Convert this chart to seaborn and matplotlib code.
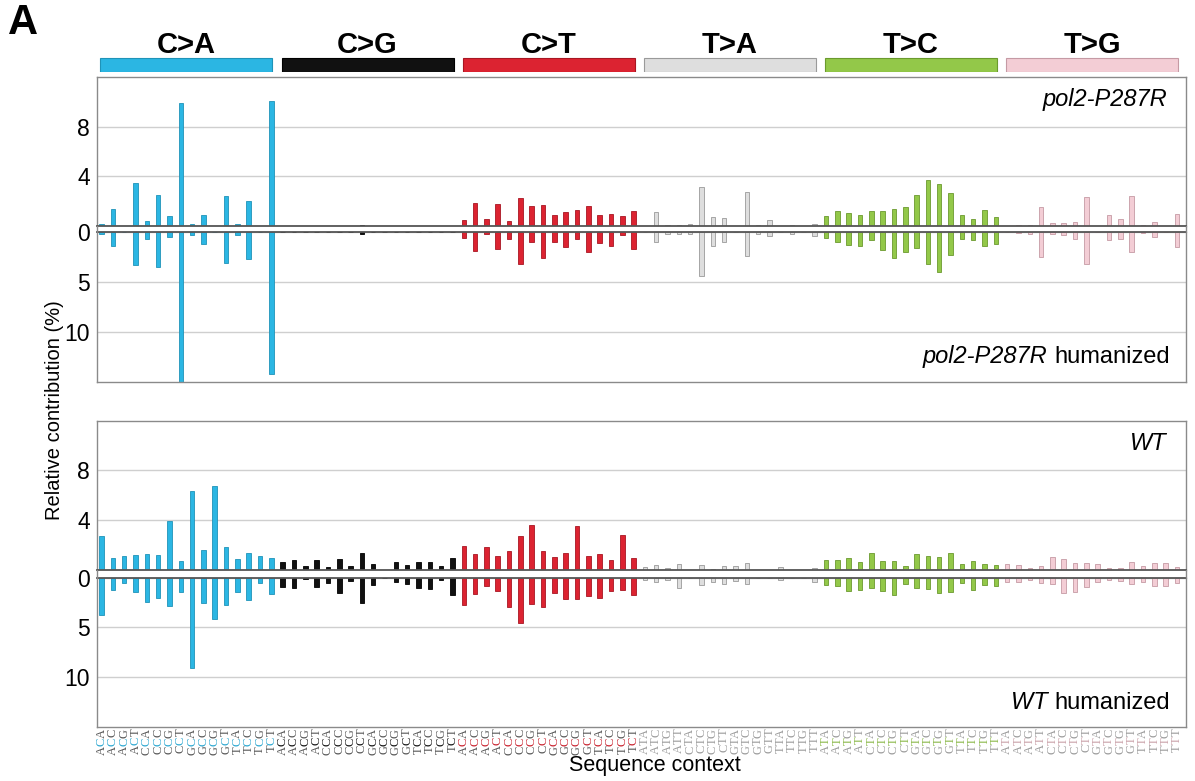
import numpy as np
import pandas as pd
import matplotlib
matplotlib.use("Agg")
import matplotlib.pyplot as plt
import matplotlib.transforms as mtransforms
import seaborn as sns

mut_types = ["C>A", "C>G", "C>T", "T>A", "T>C", "T>G"]
type_colors = ["#2bb6e3", "#111111", "#dc2331", "#dedede", "#93c849", "#f3cdd5"]
edge_colors = ["#1f93b8", "#000000", "#a81622", "#9a9a9a", "#6b9a2e", "#c59aa4"]
label_mid_colors = ["#2aa6d0", "#111111", "#c8202c", "#9a9a9a", "#8ab848", "#c9a0a8"]

bases = ["A", "C", "G", "T"]
contexts = [f + t[0] + b for t in mut_types for f in bases for b in bases]
context_type = [t for t in mut_types for _ in range(16)]

# relative contribution (%), order: C>A, C>G, C>T, T>A, T>C, T>G
pol2_top = [
    0.2, 1.35, 0, 3.5, 0.4, 2.5, 0.8, 9.9, 0.2, 0.85, 0, 2.45, 0.2, 2.0, 0, 10.1,
    0, 0, 0, 0, 0, 0, 0, 0.1, 0, 0, 0, 0, 0, 0, 0, 0,
    0.45, 1.87, 0.6, 1.8, 0.4, 2.25, 1.6, 1.7, 0.85, 1.1, 1.3, 1.6, 0.85, 1.0, 0.8, 1.2,
    0, 1.1, 0.1, 0.05, 0.2, 3.15, 0.7, 0.67, 0, 2.75, 0.1, 0.45, 0, 0.08, 0, 0.2,
    0.83, 1.18, 1.07, 0.86, 1.23, 1.23, 1.34, 1.5, 2.46, 3.67, 3.4, 2.68, 0.88, 0.54, 1.29, 0.75,
    0, 0.05, 0.1, 1.55, 0.27, 0.21, 0.35, 2.36, 0, 0.91, 0.56, 2.4, 0.1, 0.3, 0, 0.96,
]
pol2_hum = [
    0.2, 1.37, 0, 3.3, 0.67, 3.5, 0.5, 15.0, 0.27, 1.2, 0, 3.1, 0.27, 2.7, 0, 14.2,
    0, 0, 0, 0, 0, 0, 0, 0.2, 0, 0, 0, 0, 0, 0, 0, 0,
    0.53, 1.9, 0.2, 1.7, 0.67, 3.13, 1.0, 2.6, 1.0, 1.47, 0.67, 2.0, 1.1, 1.37, 0.3, 1.7,
    0, 1.0, 0.17, 0.13, 0.13, 4.33, 1.4, 0.97, 0, 2.33, 0.17, 0.4, 0, 0.17, 0, 0.33,
    0.6, 1.0, 1.23, 1.37, 0.73, 1.73, 2.53, 1.97, 1.57, 3.13, 4.0, 2.23, 0.67, 0.77, 1.37, 1.17,
    0, 0.1, 0.17, 2.47, 0.17, 0.3, 0.7, 3.17, 0, 0.8, 0.7, 1.97, 0.1, 0.47, 0, 1.5,
]
wt_top = [
    2.72, 0.99, 1.15, 1.25, 1.31, 1.2, 3.97, 0.77, 6.32, 1.63, 6.72, 1.84, 0.91, 1.36, 1.17, 0.99,
    0.64, 0.8, 0.37, 0.8, 0.27, 0.91, 0.32, 1.41, 0.51, 0, 0.64, 0.4, 0.67, 0.67, 0.35, 1.01,
    1.95, 1.33, 1.87, 1.15, 1.57, 2.77, 3.65, 1.57, 1.04, 1.36, 3.55, 1.17, 1.33, 0.8, 2.85, 1.01,
    0.24, 0.4, 0.16, 0.53, 0, 0.45, 0.13, 0.35, 0.35, 0.56, 0, 0, 0.24, 0, 0, 0.21,
    0.85, 0.8, 0.99, 0.67, 1.39, 0.75, 0.75, 0.35, 1.33, 1.12, 1.07, 1.36, 0.53, 0.75, 0.53, 0.43,
    0.48, 0.4, 0.16, 0.32, 1.04, 0.91, 0.61, 0.59, 0.53, 0.16, 0.16, 0.67, 0.37, 0.56, 0.61, 0.27,
]
wt_hum = [
    3.75, 1.2, 0.5, 1.4, 2.44, 2.07, 2.88, 1.47, 9.06, 2.58, 4.11, 2.71, 1.4, 2.24, 0.5, 1.67,
    0.97, 1.04, 0.17, 0.94, 0.5, 1.57, 0.3, 2.58, 0.77, 0, 0.47, 0.64, 1.04, 1.14, 0.2, 1.7,
    2.71, 1.6, 0.84, 1.34, 2.94, 4.55, 2.64, 2.91, 1.57, 2.17, 2.17, 1.81, 2.0, 1.34, 1.24, 1.7,
    0.27, 0.47, 0.27, 1.04, 0, 0.77, 0.4, 0.64, 0.33, 0.6, 0, 0, 0.27, 0, 0, 0.43,
    0.74, 0.87, 1.37, 1.24, 1.0, 1.3, 1.7, 0.6, 1.07, 1.17, 1.57, 1.4, 0.5, 1.24, 0.74, 0.84,
    0.47, 0.43, 0.27, 0.57, 0.67, 1.54, 1.4, 0.94, 0.47, 0.23, 0.3, 0.67, 0.43, 0.84, 0.84, 0.54,
]

df = pd.DataFrame({
    "pos": np.arange(96),
    "context": contexts,
    "type": context_type,
    "pol2_top": pol2_top,
    "pol2_hum": pol2_hum,
    "wt_top": wt_top,
    "wt_hum": wt_hum,
})

sns.set_style("white")
plt.rcParams["font.family"] = ["Liberation Sans", "DejaVu Sans"]
plt.rcParams["text.color"] = "black"
plt.rcParams["ytick.color"] = "black"
plt.rcParams["axes.labelcolor"] = "black"

fig = plt.figure(figsize=(11.95, 7.81), dpi=100)
W, H = 1195.0, 781.0
x0, x1 = 97, 1186


def add_ax(top_px, bot_px):
    return fig.add_axes([x0 / W, 1 - bot_px / H, (x1 - x0) / W, (bot_px - top_px) / H])


palette = dict(zip(mut_types, type_colors))
XLIM = (-0.4, 95.8)


def draw_half(ax, col, upper):
    sns.barplot(data=df, x="pos", y=col, hue="type", hue_order=mut_types, palette=palette,
                native_scale=True, width=0.4, dodge=False, legend=False, ax=ax,
                linewidth=0.6, saturation=1, err_kws={"linewidth": 0})
    for p in ax.patches:
        i = int(round(p.get_x() + p.get_width() / 2))
        p.set_edgecolor(edge_colors[i // 16])
    ax.set_xlim(*XLIM)
    ax.set_xlabel("")
    ax.set_ylabel("")
    ax.set_xticks([])
    ax.set_axisbelow(True)
    ax.yaxis.grid(True, color="#cfcfcf", linewidth=1.0)
    ax.tick_params(axis="y", length=0, labelsize=16.5, pad=5, labelcolor="black")
    for s in ax.spines.values():
        s.set_color("#8a8a8a")
        s.set_linewidth(1.0)
    if upper:
        ax.set_ylim(0, 12)
        ax.set_yticks([0, 4, 8])
        ax.set_yticklabels(["", "4", "8"])
        ax.spines["bottom"].set_color("#555555")
        ax.spines["bottom"].set_linewidth(1.3)
    else:
        ax.set_ylim(15, 0)
        ax.set_yticks([0, 5, 10])
        ax.set_yticklabels(["0", "5", "10"])
        ax.spines["top"].set_color("#555555")
        ax.spines["top"].set_linewidth(1.3)


ax1 = add_ax(77, 226)
ax2 = add_ax(232.3, 382)
ax3 = add_ax(420.5, 570.3)
ax4 = add_ax(577.7, 727)
draw_half(ax1, "pol2_top", True)
draw_half(ax2, "pol2_hum", False)
draw_half(ax3, "wt_top", True)
draw_half(ax4, "wt_hum", False)

# keep the side frame continuous across the gap between the two halves
for top_px, bot_px in [(226, 232.3), (570.3, 577.7)]:
    for xp in (x0, x1):
        fig.add_artist(plt.Line2D([xp / W, xp / W], [1 - bot_px / H, 1 - top_px / H],
                                  color="#8a8a8a", linewidth=1.0))

# sample names
name_fs = 17
ax1.text(0.983, 0.846, "pol2-P287R", transform=ax1.transAxes, ha="right", va="center",
         fontsize=name_fs, style="italic")
t = ax2.text(0.985, 0.167, "humanized", transform=ax2.transAxes, ha="right", va="center",
             fontsize=name_fs)
ax2.annotate("pol2-P287R ", xy=(0, 0), xycoords=t, ha="right", va="bottom",
             fontsize=name_fs, style="italic")
ax3.text(0.982, 0.847, "WT", transform=ax3.transAxes, ha="right", va="center",
         fontsize=name_fs, style="italic")
t = ax4.text(0.985, 0.16, "humanized", transform=ax4.transAxes, ha="right", va="center",
             fontsize=name_fs)
ax4.annotate("WT ", xy=(0, 0), xycoords=t, ha="right", va="bottom",
             fontsize=name_fs, style="italic")

# header bars with mutation types
axh = add_ax(30, 72)
centers = [7.5 + 16 * k for k in range(6)]
axh.bar(centers, [1] * 6, width=15.2, color=type_colors, edgecolor=edge_colors, linewidth=0.8)
for c, m in zip(centers, mut_types):
    axh.text(c, 1.95, m, ha="center", va="center", fontsize=21, fontweight="bold")
axh.set_xlim(*XLIM)
axh.set_ylim(0, 3)
axh.axis("off")

# trinucleotide labels under the bottom panel, middle base coloured
trans = mtransforms.blended_transform_factory(ax4.transData, ax4.transAxes)
for i, ctx in enumerate(contexts):
    k = i // 16
    outer = "#9a9a9a" if k >= 3 else "#555555"
    lab_kw = dict(rotation=90, ha="center", fontsize=9, family=["Liberation Serif", "DejaVu Serif"])
    t = ax4.text(i, -0.012, ctx[2], transform=trans, va="top", color=outer, **lab_kw)
    t = ax4.annotate(ctx[1], xy=(0.5, 0), xycoords=t, va="top", color=label_mid_colors[k], **lab_kw)
    ax4.annotate(ctx[0], xy=(0.5, 0), xycoords=t, va="top", color=outer, **lab_kw)

fig.text(655 / W, 1 - 766 / H, "Sequence context", ha="center", va="center", fontsize=15.5)
fig.text(55 / W, 1 - 410 / H, "Relative contribution (%)", rotation=90, ha="center",
         va="center", fontsize=14.5)
fig.text(8 / W, 1 - 23 / H, "A", ha="left", va="center", fontsize=30, fontweight="bold")

fig.savefig("out.png", dpi=100)
